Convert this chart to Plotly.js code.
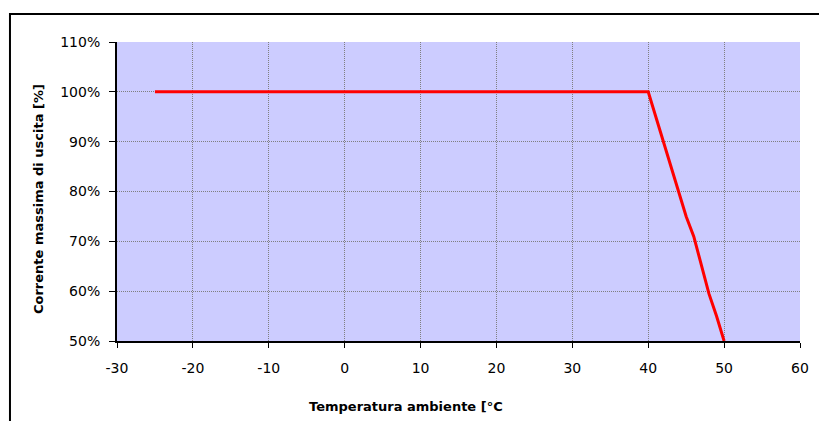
<!DOCTYPE html>
<html>
<head>
<meta charset="utf-8">
<script src="https://cdn.plot.ly/plotly-3.0.1.min.js"></script>
<style>
  html, body { margin: 0; padding: 0; overflow: hidden; background: #ffffff; }
  #chart { position: absolute; left: 0; top: 0; width: 819px; height: 421px; }
</style>
</head>
<body>
<div id="chart"></div>
<script>
// Temperature (°C) and maximum output current (%)
const temperature = [-25, 40, 41, 42, 43, 44, 45, 46, 47, 48, 49, 50];
const currentPct  = [100, 100, 95, 90, 85, 80.5, 75, 71, 65, 59.5, 55, 50];

const xTicks = [-30, -20, -10, 0, 10, 20, 30, 40, 50, 60];
const yTicks = [50, 60, 70, 80, 90, 100, 110];

const xTitle = 'Temperatura ambiente [°C';
const yTitle = 'Corrente massima di uscita [%]';

const trace = {
  x: temperature,
  y: currentPct,
  type: 'scatter',
  mode: 'lines',
  line: { color: '#ff0000', width: 3 },
  hoverinfo: 'skip'
};

const fontFam = '"DejaVu Sans", "Liberation Sans", Arial, sans-serif';

const layout = {
  width: 819,
  height: 421,
  margin: { l: 117, r: 19, t: 42, b: 80 },
  paper_bgcolor: '#ffffff',
  plot_bgcolor: '#ccccff',
  showlegend: false,
  font: { family: fontFam, size: 14, color: '#000000' },
  xaxis: {
    range: [-30, 60],
    tickvals: xTicks,
    ticktext: xTicks.map(String),
    showgrid: true,
    gridcolor: '#808080',
    griddash: '1px,1px',
    gridwidth: 1,
    zeroline: false,
    showline: true,
    linecolor: '#000000',
    linewidth: 2,
    ticks: 'outside',
    ticklen: 5,
    tickwidth: 1,
    tickcolor: '#000000',
    ticklabelstandoff: 8,
    tickfont: { family: fontFam, size: 14, color: '#000000' }
  },
  yaxis: {
    range: [50, 110],
    tickvals: yTicks,
    ticktext: yTicks.map(v => v + '%'),
    showgrid: true,
    gridcolor: '#808080',
    griddash: '1px,1px',
    gridwidth: 1,
    zeroline: false,
    showline: true,
    linecolor: '#000000',
    linewidth: 2,
    ticks: 'outside',
    ticklen: 6,
    tickwidth: 1,
    tickcolor: '#000000',
    ticklabelstandoff: 6,
    tickfont: { family: fontFam, size: 14, color: '#000000' }
  },
  annotations: [
    {
      text: xTitle, xref: 'paper', yref: 'paper', x: 0.4231, y: -0.2174,
      xanchor: 'center', yanchor: 'middle', showarrow: false,
      font: { family: fontFam, size: 13, color: '#000000', weight: 'bold' }
    },
    {
      text: yTitle, xref: 'paper', yref: 'paper', x: -0.1149, y: 0.4732,
      xanchor: 'center', yanchor: 'middle', showarrow: false, textangle: -90,
      font: { family: fontFam, size: 13, color: '#000000', weight: 'bold' }
    }
  ],
  shapes: [
    {
      type: 'rect', xref: 'paper', yref: 'paper',
      x0: -0.1567, x1: 1.6, y0: -0.6, y1: 1.0936,
      line: { color: '#000000', width: 2 }, fillcolor: 'rgba(0,0,0,0)', layer: 'above'
    }
  ]
};

Plotly.newPlot('chart', [trace], layout, { staticPlot: true, displayModeBar: false });
</script>
</body>
</html>
